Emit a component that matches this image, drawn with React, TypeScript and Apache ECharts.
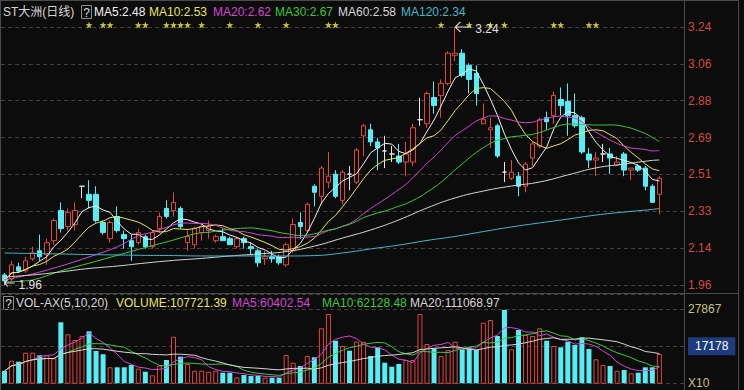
import React, { useEffect, useRef } from "react";
import * as echarts from "echarts";

// ---------- data ----------
const open = [
  2.01, 1.99, 2.05, 2.03, 2.09, 2.13, 2.11, 2.18, 2.33, 2.25,
  2.26, 2.45, 2.41, 2.41, 2.27, 2.19, 2.30, 2.21, 2.18, 2.17,
  2.20, 2.15, 2.24, 2.34, 2.33, 2.34, 2.17, 2.16, 2.22, 2.23,
  2.18, 2.20, 2.19, 2.15, 2.19, 2.15, 2.13, 2.09, 2.10, 2.10,
  2.06, 2.13, 2.27, 2.23, 2.45, 2.40, 2.47, 2.51, 2.38, 2.51,
  2.47, 2.70, 2.73, 2.67, 2.625, 2.61, 2.60, 2.57, 2.57, 2.78,
  2.76, 2.89, 2.90, 2.96, 3.10, 3.11, 3.05, 3.01, 2.76, 2.73,
  2.75, 2.52, 2.49, 2.50, 2.45, 2.59, 2.65, 2.79, 2.80, 2.88,
  2.87, 2.80, 2.79, 2.61, 2.58, 2.61, 2.61, 2.555, 2.61, 2.53,
  2.55, 2.54, 2.45, 2.41,
];
const close = [
  1.98, 2.06, 2.03, 2.08, 2.12, 2.10, 2.17, 2.28, 2.24, 2.32,
  2.33, 2.45, 2.38, 2.28, 2.22, 2.27, 2.23, 2.19, 2.15, 2.22,
  2.15, 2.22, 2.30, 2.30, 2.37, 2.25, 2.20, 2.24, 2.25, 2.25,
  2.20, 2.18, 2.16, 2.19, 2.17, 2.14, 2.07, 2.10, 2.09, 2.07,
  2.16, 2.26, 2.25, 2.36, 2.42, 2.54, 2.50, 2.40, 2.52, 2.51,
  2.63, 2.75, 2.67, 2.64, 2.625, 2.61, 2.57, 2.61, 2.74, 2.78,
  2.91, 2.85, 2.96, 3.11, 3.11, 3.00, 2.98, 2.91, 2.78, 2.74,
  2.60, 2.52, 2.52, 2.45, 2.56, 2.66, 2.78, 2.77, 2.90, 2.85,
  2.80, 2.75, 2.62, 2.58, 2.59, 2.61, 2.59, 2.57, 2.53, 2.54,
  2.53, 2.45, 2.37, 2.49,
];
const low = [
  1.96, 1.98, 2.02, 2.02, 2.08, 2.08, 2.06, 2.16, 2.22, 2.23,
  2.23, 2.39, 2.34, 2.27, 2.21, 2.17, 2.22, 2.14, 2.08, 2.16,
  2.14, 2.14, 2.22, 2.29, 2.30, 2.24, 2.13, 2.14, 2.18, 2.19,
  2.17, 2.18, 2.16, 2.14, 2.14, 2.11, 2.05, 2.06, 2.07, 2.06,
  2.05, 2.12, 2.19, 2.22, 2.35, 2.36, 2.44, 2.39, 2.36, 2.43,
  2.46, 2.60, 2.65, 2.53, 2.54, 2.57, 2.56, 2.50, 2.55, 2.75,
  2.74, 2.81, 2.79, 2.95, 3.07, 2.99, 2.91, 2.85, 2.76, 2.64,
  2.59, 2.47, 2.48, 2.40, 2.42, 2.55, 2.64, 2.73, 2.76, 2.80,
  2.70, 2.74, 2.61, 2.54, 2.50, 2.57, 2.51, 2.55, 2.50, 2.48,
  2.52, 2.43, 2.37, 2.31,
];
const high = [
  2.02, 2.08, 2.07, 2.10, 2.15, 2.21, 2.19, 2.29, 2.37, 2.34,
  2.37, 2.45, 2.48, 2.45, 2.28, 2.28, 2.35, 2.23, 2.21, 2.24,
  2.21, 2.23, 2.32, 2.38, 2.42, 2.35, 2.23, 2.25, 2.26, 2.28,
  2.21, 2.24, 2.20, 2.20, 2.20, 2.17, 2.14, 2.13, 2.13, 2.11,
  2.17, 2.29, 2.32, 2.37, 2.46, 2.55, 2.62, 2.53, 2.53, 2.55,
  2.64, 2.76, 2.76, 2.69, 2.70, 2.65, 2.66, 2.67, 2.76, 2.89,
  2.92, 2.97, 2.98, 3.12, 3.24, 3.13, 3.06, 3.05, 2.86, 2.79,
  2.76, 2.57, 2.58, 2.52, 2.57, 2.67, 2.79, 2.82, 2.92, 2.94,
  2.96, 2.91, 2.80, 2.64, 2.62, 2.66, 2.64, 2.60, 2.62, 2.54,
  2.56, 2.55, 2.46, 2.50,
];
const volume = [
  10042, 13018, 12729, 15329, 15329, 14578, 14578, 13712, 24112, 20645,
  18998, 20154, 21512, 15820, 14867, 11111, 11111, 11111, 11776, 10707,
  9840, 8800, 11574, 13220, 19952, 14174, 12065, 10129, 10129, 9840,
  10129, 9551, 9551, 8222, 8887, 8598, 8598, 8107, 8107, 8107,
  14665, 12440, 11487, 14376, 14000, 22379, 26510, 18796, 17265, 15907,
  18507, 18507, 14376, 16889, 12440, 11285, 12065, 13220, 13220, 26510,
  17843, 16601, 14376, 16109, 18507, 16312, 16889, 16109, 23996, 24776,
  20154, 27665, 16312, 21887, 20443, 20154, 22379, 18796, 17265, 16889,
  18507, 17554, 19778, 16398, 13423, 11776, 11487, 10129, 10331, 9378,
  9551, 11111, 11111, 14954,
];
// days carrying a signal star
const signalDays = [12, 14, 15, 19, 20, 23, 24, 25, 26, 28, 32, 36, 40, 46, 47, 62, 66, 69, 71, 78, 79, 83, 84];
// long moving averages at these days
const sampleDays = [0, 4, 8, 12, 16, 20, 24, 28, 32, 36, 40, 44, 48, 52, 56, 60, 64, 68, 72, 76, 80, 84, 88, 92, 93];
const ma20Early = [1.985, 2.015, 2.054, 2.099, 2.149];
const ma30Early = [1.975, 1.985, 2.03, 2.068, 2.107, 2.146, 2.183, 2.22];
const ma60Read = [2.0, 2.01, 2.025, 2.042, 2.054, 2.069, 2.082, 2.092, 2.104, 2.114, 2.126, 2.153, 2.193,
  2.233, 2.283, 2.342, 2.392, 2.426, 2.451, 2.471, 2.506, 2.541, 2.56, 2.578, 2.58];
const ma120Read = [2.119, 2.116, 2.114, 2.111, 2.109, 2.107, 2.106, 2.104, 2.104, 2.104, 2.104, 2.106, 2.119,
  2.139, 2.158, 2.181, 2.201, 2.225, 2.248, 2.268, 2.287, 2.307, 2.322, 2.335, 2.34];

const priceTicks = ["1.96", "2.14", "2.33", "2.51", "2.69", "2.88", "3.06", "3.24"];
const volumeTicks = ["X10", "17178", "27867"];

const chartTitle = "ST大洲(日线)";
const priceLegend = ["MA5:2.48", "MA10:2.53", "MA20:2.62", "MA30:2.67", "MA60:2.58", "MA120:2.34"];
const volumeLegend = ["VOL-AX(5,10,20)", "VOLUME:107721.39", "MA5:60402.54", "MA10:62128.48", "MA20:111068.97"];

// ---------- styles ----------
const BG = "#0c0c0c";
const UP = "#e5463b";
const DOWN = "#56eef6";
const DOJI = "#e6e6e6";
const FONT = "'Liberation Sans', Arial, 'Noto Sans CJK SC', sans-serif";
const priceLegendColors = ["#f2f2f2", "#e6e65a", "#d447d4", "#3cc83c", "#d6d6d6", "#46b8c8"];
const priceLegendX = [94, 149, 213, 275, 338, 401];
const volumeLegendColors = ["#d6d6d6", "#e6e65a", "#d447d4", "#3cc83c", "#d6d6d6"];
const volumeLegendX = [16, 116, 232, 322, 410];

const N = close.length;
const days = close.map((_, i) => String(i + 1));
const slots = [...days, "s1", "s2", "s3"]; // empty room on the right, as in the original

const movingAvg = (vals: number[], n: number, partial: boolean) =>
  vals.map((_, i) => {
    if (i < n - 1 && !partial) return null;
    const w = vals.slice(Math.max(0, i - n + 1), i + 1);
    return +(w.reduce((a, b) => a + b, 0) / w.length).toFixed(4);
  });
const sparse = (vals: number[]) =>
  Array.from({ length: N }, (_, i) => {
    const k = sampleDays.indexOf(i);
    return k >= 0 && k < vals.length ? vals[k] : null;
  });
const hybrid = (n: number, early: number[]) => {
  const comp = movingAvg(close, n, false);
  const sp = sparse(early);
  return comp.map((v, i) => (i >= n - 1 ? v : sp[i]));
};

function buildOption(): any {
  const priceMin = +priceTicks[0];
  const priceMax = +priceTicks[priceTicks.length - 1];
  const priceStep = (priceMax - priceMin) / (priceTicks.length - 1);
  const volStep = +volumeTicks[2] - +volumeTicks[1];
  const volMin = +volumeTicks[1] - volStep;
  const volMax = 32287;

  const up = close.map((c, i) => c > open[i] || (c === open[i] && c >= (i > 0 ? close[i - 1] : c)));

  const line = (data: any[], color: string, smooth: any, xi = 0, yi = 0) => ({
    type: "line",
    data,
    xAxisIndex: xi,
    yAxisIndex: yi,
    showSymbol: false,
    symbol: "none",
    connectNulls: true,
    smooth,
    silent: true,
    lineStyle: { color, width: 1 },
    z: 3,
  });

  const txt = (text: string, x: number, y: number, fill: string) => ({
    type: "text",
    x,
    y,
    silent: true,
    style: { text, fill, fontSize: 12, fontFamily: FONT, verticalAlign: "middle", align: "left" },
  });
  const ln = (x1: number, y1: number, x2: number, y2: number) => ({
    type: "line",
    silent: true,
    shape: { x1, y1, x2, y2 },
    style: { stroke: "#4a4a4a", lineWidth: 1 },
  });
  const qbox = (x: number, y: number) => [
    { type: "rect", silent: true, shape: { x, y, width: 10, height: 13 }, style: { fill: "none", stroke: "#8c8c8c", lineWidth: 1 } },
    { type: "text", silent: true, x: x + 5, y: y + 7, style: { text: "?", fill: "#dddddd", fontSize: 12, fontFamily: FONT, align: "center", verticalAlign: "middle" } },
  ];

  const arrow = "path://M0,5L6,0M0,5L6,10M0,5L18,5";

  return {
    animation: false,
    backgroundColor: BG,
    grid: [
      { left: 1, right: 60, top: 27, height: 258 },
      { left: 1, right: 60, top: 294, height: 89.3 },
    ],
    xAxis: [
      { type: "category", gridIndex: 0, data: slots, show: false },
      { type: "category", gridIndex: 1, data: slots, show: false },
    ],
    yAxis: [
      {
        type: "value",
        gridIndex: 0,
        position: "right",
        min: priceMin,
        max: priceMax,
        interval: priceStep,
        axisLine: { show: true, lineStyle: { color: "#4a4a4a" } },
        axisTick: { show: false },
        axisLabel: {
          color: "#d24a3f",
          fontSize: 12,
          fontFamily: FONT,
          margin: 4,
          formatter: (v: number) => priceTicks[Math.round((v - priceMin) / priceStep)] ?? "",
        },
        splitLine: { show: true, lineStyle: { color: "#4b3d3d", type: [4, 3], width: 1 } },
      },
      {
        type: "value",
        gridIndex: 1,
        position: "right",
        min: volMin,
        max: volMax,
        interval: volStep,
        axisLine: { show: true, lineStyle: { color: "#4a4a4a" } },
        axisTick: { show: false },
        axisLabel: {
          color: "#c9c27c",
          fontSize: 12,
          fontFamily: FONT,
          margin: 4,
          formatter: (v: number) => {
            const k = Math.round((v - volMin) / volStep);
            if (Math.abs(v - (volMin + k * volStep)) > 1) return "";
            if (k === 1) return `{hl|${volumeTicks[1]}}`;
            return k >= 0 && k < volumeTicks.length ? volumeTicks[k] : "";
          },
          rich: {
            hl: { backgroundColor: "#1d3b7e", color: "#ffffff", fontSize: 12, fontFamily: FONT, padding: [3, 7, 3, 7] },
          },
        },
        splitLine: { show: true, lineStyle: { color: "#4b3d3d", type: [4, 3], width: 1 } },
      },
    ],
    series: [
      {
        type: "candlestick",
        xAxisIndex: 0,
        yAxisIndex: 0,
        data: open.map((o, i) => [o, close[i], low[i], high[i]]),
        barWidth: 5,
        itemStyle: {
          color: BG,
          color0: DOWN,
          borderColor: UP,
          borderColor0: DOWN,
          borderColorDoji: DOJI,
          borderWidth: 1,
        },
        markPoint: {
          symbol: arrow,
          symbolSize: [16, 10],
          symbolOffset: [8, 0],
          silent: true,
          itemStyle: { color: "none", borderColor: "#e0e0e0", borderWidth: 1 },
          label: {
            show: true,
            position: "right",
            distance: 1,
            offset: [0, 2],
            color: "#e0e0e0",
            fontSize: 12,
            fontFamily: FONT,
            formatter: (p: any) => Number(p.value).toFixed(2),
          },
          data: [
            { type: "max", valueDim: "highest" },
            { type: "min", valueDim: "lowest", symbolSize: [10, 7], symbolOffset: [5, -2] },
          ],
        },
        z: 2,
      },
      line(movingAvg(close, 5, true), priceLegendColors[0], false),
      line(movingAvg(close, 10, true), priceLegendColors[1], false),
      line(hybrid(20, ma20Early), priceLegendColors[2], 0.3),
      line(hybrid(30, ma30Early), priceLegendColors[3], 0.3),
      line(sparse(ma60Read), priceLegendColors[4], true),
      line(sparse(ma120Read), priceLegendColors[5], true),
      {
        type: "scatter",
        xAxisIndex: 0,
        yAxisIndex: 0,
        data: signalDays.map((d) => [d, priceMax]),
        symbol: "path://M5,0L6.2,3.4L10,3.6L7,5.8L8.1,9.5L5,7.3L1.9,9.5L3,5.8L0,3.6L3.8,3.4Z",
        symbolSize: 7,
        symbolOffset: [0, -2],
        clip: false,
        silent: true,
        itemStyle: { color: "#f0f03c" },
        z: 4,
      },
      {
        type: "bar",
        xAxisIndex: 1,
        yAxisIndex: 1,
        barWidth: 5,
        silent: true,
        data: volume.map((v, i) => ({
          value: v,
          itemStyle: up[i] ? { color: BG, borderColor: UP, borderWidth: 1 } : { color: DOWN },
        })),
      },
      line(movingAvg(volume, 5, true), volumeLegendColors[2], false, 1, 1),
      line(movingAvg(volume, 10, true), volumeLegendColors[3], false, 1, 1),
      line(movingAvg(volume, 20, true), volumeLegendColors[4], false, 1, 1),
    ],
    graphic: [
      ln(0, 0.5, 738, 0.5),
      ln(0.5, 0, 0.5, 390),
      ln(684.5, 0, 684.5, 390),
      ln(738.5, 0, 738.5, 390),
      ln(0, 293.5, 738, 293.5),
      txt(chartTitle, 3, 12, "#d6d6d6"),
      ...qbox(81.5, 5.5),
      ...priceLegend.map((t, i) => txt(t, priceLegendX[i], 12, priceLegendColors[i])),
      ...qbox(3.5, 296.5),
      ...volumeLegend.map((t, i) => txt(t, volumeLegendX[i], 303, volumeLegendColors[i])),
    ],
  };
}

export default function App() {
  const ref = useRef<HTMLDivElement>(null);
  useEffect(() => {
    document.body.style.margin = "0";
    document.body.style.background = BG;
    const chart = echarts.init(ref.current!, null, { renderer: "svg" });
    chart.setOption(buildOption());
    return () => chart.dispose();
  }, []);
  return <div ref={ref} style={{ width: 744, height: 390 }} />;
}
